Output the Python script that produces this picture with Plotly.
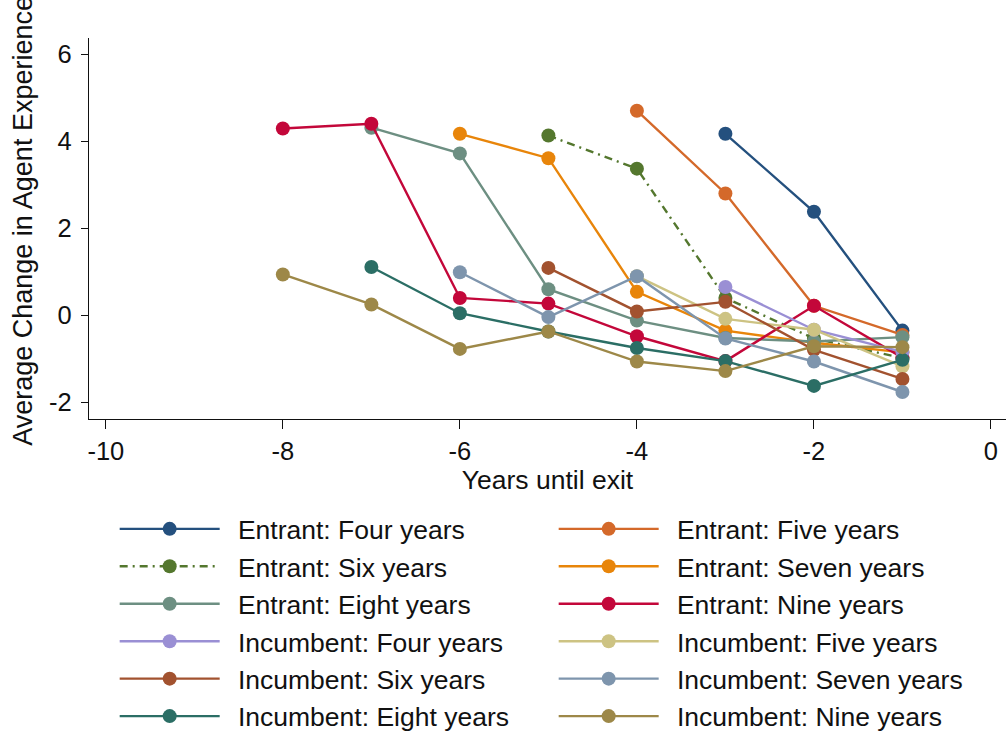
import plotly.graph_objects as go

# Average change in agent experience by years until exit, per tenure group
series_names = [
    "Entrant: Four years", "Entrant: Five years",
    "Entrant: Six years", "Entrant: Seven years",
    "Entrant: Eight years", "Entrant: Nine years",
    "Incumbent: Four years", "Incumbent: Five years",
    "Incumbent: Six years", "Incumbent: Seven years",
    "Incumbent: Eight years", "Incumbent: Nine years",
]

years_4 = [-3, -2, -1]
years_5 = [-4, -3, -2, -1]
years_6 = [-5, -4, -3, -2, -1]
years_7 = [-6, -5, -4, -3, -2, -1]
years_8 = [-7, -6, -5, -4, -3, -2, -1]
years_9 = [-8, -7, -6, -5, -4, -3, -2, -1]

entrant_four = [4.17, 2.38, -0.35]
entrant_five = [4.70, 2.80, 0.22, -0.45]
entrant_six = [4.13, 3.37, 0.40, -0.53, -0.98]
entrant_seven = [4.17, 3.61, 0.54, -0.35, -0.63, -0.85]
entrant_eight = [4.31, 3.72, 0.60, -0.12, -0.52, -0.60, -0.50]
entrant_nine = [4.29, 4.40, 0.40, 0.27, -0.48, -1.05, 0.22, -0.97]

incumbent_four = [0.65, -0.33, -0.84]
incumbent_five = [0.90, -0.08, -0.33, -1.17]
incumbent_six = [1.09, 0.09, 0.31, -0.79, -1.46]
incumbent_seven = [0.99, -0.04, 0.90, -0.53, -1.06, -1.76]
incumbent_eight = [1.11, 0.05, -0.37, -0.75, -1.05, -1.62, -1.02]
incumbent_nine = [0.94, 0.25, -0.77, -0.37, -1.06, -1.28, -0.71, -0.73]

x_tick_vals = [-10, -8, -6, -4, -2, 0]
x_tick_text = ["-10", "-8", "-6", "-4", "-2", "0"]
y_tick_vals = [-2, 0, 2, 4, 6]
y_tick_text = ["-2", "0", "2", "4", "6"]

x_title = "Years until exit"
y_title = "Average Change in Agent Experience"

xs = [years_4, years_5, years_6, years_7, years_8, years_9,
      years_4, years_5, years_6, years_7, years_8, years_9]
ys = [entrant_four, entrant_five, entrant_six, entrant_seven,
      entrant_eight, entrant_nine, incumbent_four, incumbent_five,
      incumbent_six, incumbent_seven, incumbent_eight, incumbent_nine]

colors = ["#24507e", "#d4692a", "#54772e", "#e8850a", "#6d8f82", "#c3073a",
          "#9a8fd4", "#cdc383", "#a2522f", "#7e95ad", "#2b6e65", "#9d8848"]
dashes = ["solid", "solid", "8px,5px,2px,5px", "solid", "solid", "solid",
          "solid", "solid", "solid", "solid", "solid", "solid"]

FONT = "Liberation Sans, Arial, Helvetica, sans-serif"
INK = "#111111"

fig = go.Figure()
for name, x, y, c, d in zip(series_names, xs, ys, colors, dashes):
    fig.add_trace(go.Scatter(
        x=x, y=y, name="\u2002" + name, mode="lines+markers",
        line=dict(color=c, width=2.4, dash=d),
        marker=dict(color=c, size=14, line=dict(width=0)),
    ))

# vertical axis title, placed a little above the plot-area centre
fig.add_annotation(
    text=y_title, textangle=-90, showarrow=False,
    xref="paper", yref="paper", x=-0.072, y=0.52,
    xanchor="center", yanchor="middle",
    font=dict(family=FONT, size=27, color=INK),
)

fig.update_layout(
    width=1006, height=734,
    margin=dict(l=89, r=0, t=38, b=315, autoexpand=False),
    paper_bgcolor="white", plot_bgcolor="white",
    font=dict(family=FONT, size=25, color=INK),
    showlegend=True,
    legend=dict(
        orientation="h", x=0.028, xanchor="left", y=-0.226, yanchor="top",
        entrywidth=324, entrywidthmode="pixels",
        itemwidth=100, itemsizing="trace",
        font=dict(family=FONT, size=26.5, color=INK),
        bgcolor="rgba(0,0,0,0)",
        traceorder="normal",
    ),
    xaxis=dict(
        range=[-10.19, 0.17], tickvals=x_tick_vals, ticktext=x_tick_text,
        showgrid=False, zeroline=False, showline=True, linecolor=INK,
        linewidth=1.3, ticks="outside", ticklen=9, tickwidth=1.3,
        tickcolor=INK, tickfont=dict(size=25.5),
        title=dict(text=x_title, standoff=0,
                   font=dict(family=FONT, size=26.5)),
    ),
    yaxis=dict(
        range=[-2.38, 6.37], tickvals=y_tick_vals, ticktext=y_tick_text,
        showgrid=False, zeroline=False, showline=True, linecolor=INK,
        linewidth=1.3, ticks="outside", ticklen=7, tickwidth=1.3,
        tickcolor=INK, ticklabelstandoff=4, tickfont=dict(size=25.5),
    ),
)

fig.write_html("out.html")
